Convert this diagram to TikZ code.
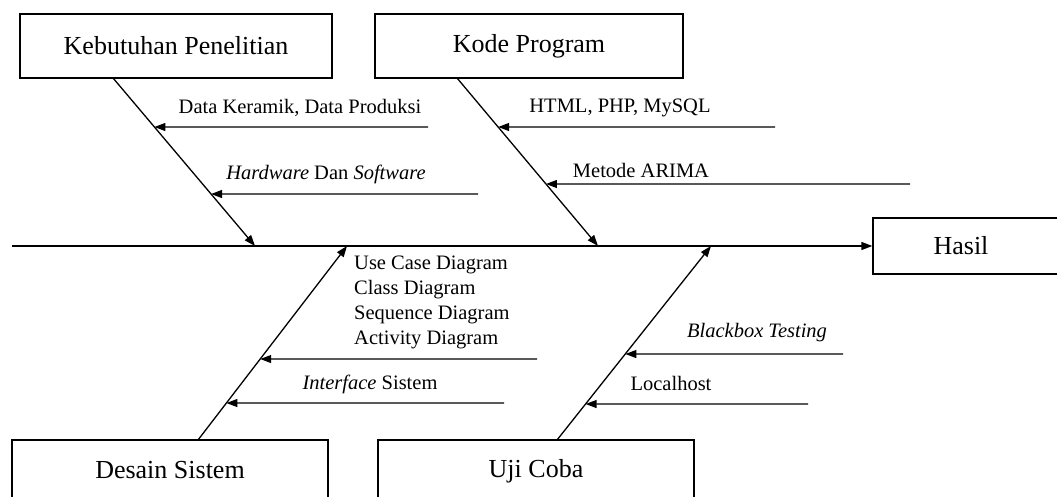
\documentclass[tikz,border=0pt]{standalone}
\usepackage{fontspec}
\setmainfont{Liberation Serif}
\usetikzlibrary{arrows.meta}
\begin{document}
\begin{tikzpicture}[x=1pt,y=-1pt,
  box/.style={draw,line width=1.3pt,inner sep=0pt,font=\fontsize{26}{30}\selectfont},
  lbl/.style={inner sep=0pt,font=\fontsize{20.5}{24}\selectfont},
  arr/.style={line width=1.3pt,-{Triangle[length=11pt,width=8pt]}},
  ln/.style={line width=1.3pt}]
\useasboundingbox (0,0) rectangle (1057,497);
\clip (0,0) rectangle (1057,497);
% boxes
\node[box,minimum width=312pt,minimum height=64pt] (keb) at (176,46) {Kebutuhan Penelitian};
\node[box,minimum width=308pt,minimum height=64pt] (kode) at (529,46) {Kode Program};
\node[box,minimum width=200pt,minimum height=56pt] (hasil) at (973,246) {\hspace*{-24pt}Hasil};
\node[box,minimum width=316pt,minimum height=62pt] (des) at (170,471) {\raisebox{3pt}{Desain Sistem}};
\node[box,minimum width=316pt,minimum height=62pt] (uji) at (536,471) {\raisebox{3pt}{Uji Coba}};
% spine
\coordinate (spS) at (12,246);
\draw[arr] (spS) -- (hasil.west);
% bone coordinates
\coordinate (kebS) at (113,78);  \coordinate (kebE) at (255,246);
\coordinate (kodS) at (457,78);  \coordinate (kodE) at (598,246);
\coordinate (desS) at (198,440); \coordinate (desE) at (347,246);
\coordinate (ujiS) at (557,440); \coordinate (ujiE) at (711,246);
\draw[arr] (kebS) -- (kebE);
\draw[arr] (kodS) -- (kodE);
\draw[arr] (desS) -- (desE);
\draw[arr] (ujiS) -- (ujiE);
% sub causes: Kebutuhan
\coordinate (a1) at (428,127);
\draw[arr] (a1) -- (intersection of 428,127--0,127 and kebS--kebE);
\node[lbl] (t1) at (300,108) {Data Keramik, Data Produksi};
\coordinate (a2) at (478,194);
\draw[arr] (a2) -- (intersection of 478,194--0,194 and kebS--kebE);
\node[lbl] (t2) at (326,174) {\textit{Hardware} Dan \textit{Software}};
% Kode Program
\coordinate (a3) at (775,127);
\draw[arr] (a3) -- (intersection of 775,127--0,127 and kodS--kodE);
\node[lbl] (t3) at (620,108) {HTML, PHP, MySQL};
\coordinate (a4) at (910,184);
\draw[arr] (a4) -- (intersection of 910,184--0,184 and kodS--kodE);
\node[lbl] (t4) at (641,170) {Metode ARIMA};
% Desain Sistem
\node[lbl,anchor=west] (d1) at (354,265) {Use Case Diagram};
\node[lbl,anchor=west] (d2) at (354,290) {Class Diagram};
\node[lbl,anchor=west] (d3) at (354,315) {Sequence Diagram};
\node[lbl,anchor=west] (d4) at (354,340) {Activity Diagram};
\coordinate (a5) at (537,359);
\draw[arr] (a5) -- (intersection of 537,359--0,359 and desS--desE);
\coordinate (a6) at (504,403);
\draw[arr] (a6) -- (intersection of 504,403--0,403 and desS--desE);
\node[lbl] (t6) at (370,384) {\textit{Interface} Sistem};
% Uji Coba
\coordinate (a7) at (843,354);
\draw[arr] (a7) -- (intersection of 843,354--0,354 and ujiS--ujiE);
\node[lbl] (t7) at (757,333) {\textit{Blackbox Testing}};
\coordinate (a8) at (808,404);
\draw[arr] (a8) -- (intersection of 808,404--0,404 and ujiS--ujiE);
\node[lbl] (t8) at (671,383) {Localhost};
\end{tikzpicture}
\end{document}
